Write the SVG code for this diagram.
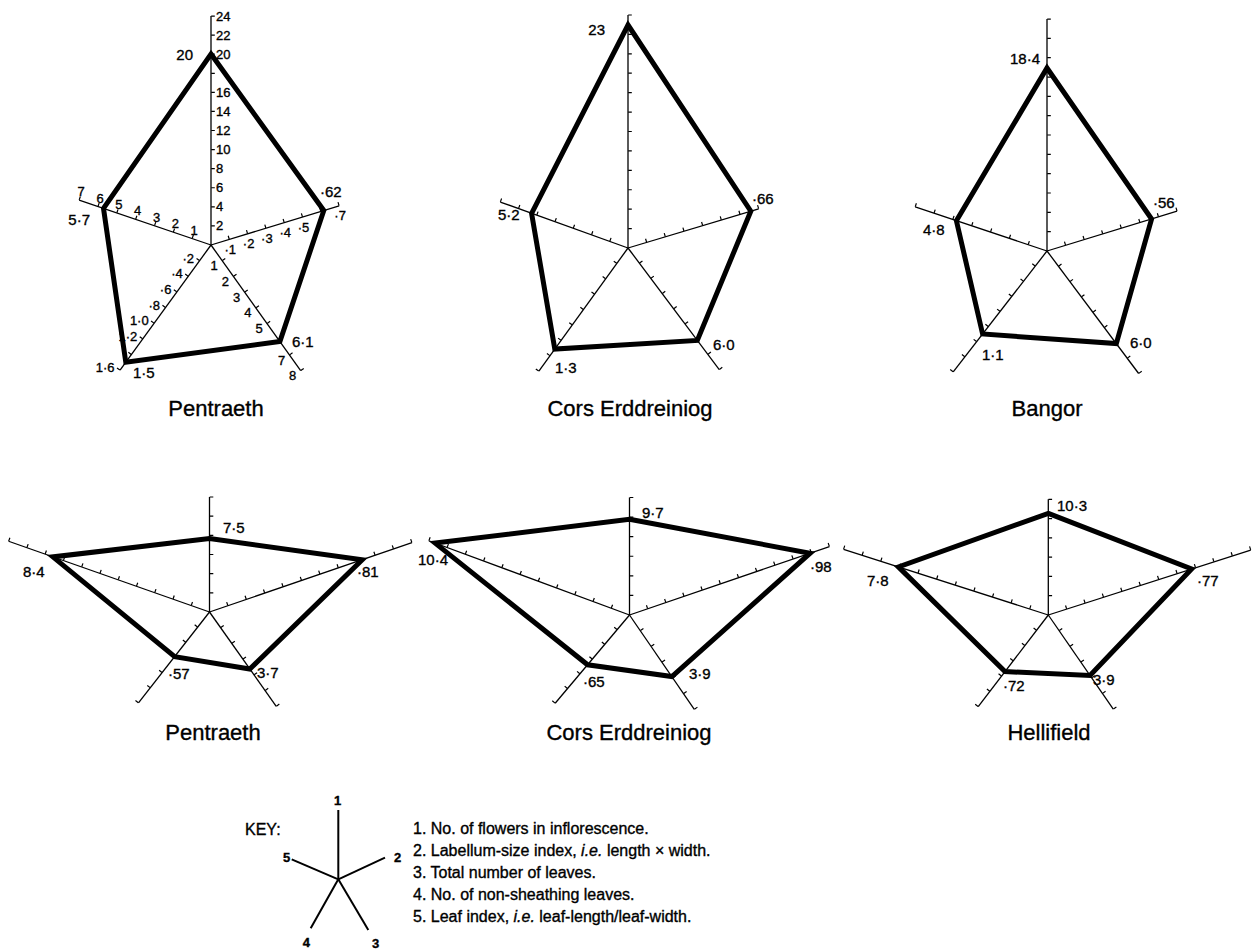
<svg xmlns="http://www.w3.org/2000/svg" width="1254" height="951" viewBox="0 0 1254 951">
<style>
.ax{stroke:#000;stroke-width:1.3;fill:none}
.tk{stroke:#000;stroke-width:3.6;fill:none;stroke-linecap:butt}
.pg{fill:none;stroke:#000;stroke-width:5;stroke-linejoin:miter}
text{font-family:"Liberation Sans",Arial,sans-serif;fill:#000;stroke:#000;stroke-width:0.35}
.v{font-size:15px}
.t{font-size:13px}
.ttl{font-size:22px;text-anchor:middle}
.kt{font-size:16px}
.kd{font-size:13px;font-weight:bold;text-anchor:middle}
.m{text-anchor:middle}
.e{text-anchor:end}
.key{stroke:#000;stroke-width:2;fill:none}
</style>
<rect width="1254" height="951" fill="#fff"/>

<g id="chart-pentraeth-1">
<g transform="translate(211,245)">
<g transform="rotate(-90)"><line class="ax" x2="229"/><line class="tk" x1="18.48" x2="229.6" y1="2" y2="2" stroke-dasharray="1.2 17.88"/></g>
<g transform="rotate(-17)"><line class="ax" x2="134"/><line class="tk" x1="18.54" x2="134.6" y1="-2" y2="-2" stroke-dasharray="1.2 17.94"/></g>
<g transform="rotate(54.5)"><line class="ax" x2="154.4"/><line class="tk" x1="18.7" x2="155" y1="-2" y2="-2" stroke-dasharray="1.2 18.1"/></g>
<g transform="rotate(126)"><line class="ax" x2="154.7"/><line class="tk" x1="18.74" x2="155.3" y1="2" y2="2" stroke-dasharray="1.2 18.14"/></g>
<g transform="rotate(198.8)"><line class="ax" x2="139.3"/><line class="tk" x1="19.3" x2="139.9" y1="2" y2="2" stroke-dasharray="1.2 18.7"/></g>
</g>
<polygon class="pg" points="211,54 323.8,210.5 279.9,341.6 125.8,362.3 103.5,208.4"/>
<g class="t">
<text x="216" y="230.4">2</text><text x="216" y="211.3">4</text><text x="216" y="192.3">6</text><text x="216" y="173.2">8</text><text x="216" y="154.1">10</text><text x="216" y="135">12</text><text x="216" y="116">14</text><text x="216" y="96.9">16</text><text x="216" y="58.7">20</text><text x="216" y="39.6">22</text><text x="216" y="20.5">24</text>
<text class="m" x="230.3" y="253.9">·1</text><text class="m" x="248.6" y="248.3">·2</text><text class="m" x="266.9" y="242.7">·3</text><text class="m" x="285.2" y="237.1">·4</text><text class="m" x="303.5" y="231.5">·5</text><text class="m" x="340.1" y="220.3">·7</text>
<text class="m" x="214.2" y="270.3">1</text><text class="m" x="225.4" y="286">2</text><text class="m" x="236.6" y="301.7">3</text><text class="m" x="247.8" y="317.4">4</text><text class="m" x="259.1" y="333.2">5</text><text class="m" x="281.5" y="364.6">7</text><text class="m" x="292.7" y="380.3">8</text>
<text class="e" x="194.1" y="262.6">·2</text><text class="e" x="182.8" y="278.3">·4</text><text class="e" x="171.4" y="293.9">·6</text><text class="e" x="160" y="309.6">·8</text><text class="e" x="148.7" y="325.3">1·0</text><text class="e" x="137.3" y="340.9">1·2</text><text class="e" x="114.5" y="372.2">1·6</text>
<text class="m" x="194.2" y="234.6">1</text><text class="m" x="175.3" y="228.2">2</text><text class="m" x="156.5" y="221.8">3</text><text class="m" x="137.6" y="215.4">4</text><text class="m" x="118.8" y="209">5</text><text class="m" x="100" y="202.5">6</text><text class="m" x="81.1" y="196.1">7</text>
</g>
<g class="v">
<text class="e" x="193" y="60">20</text><text x="320" y="197">·62</text><text class="e" x="90" y="225">5·7</text><text x="292" y="347">6·1</text><text x="133" y="378">1·5</text>
</g>
<text class="ttl" x="216" y="416">Pentraeth</text>
</g>

<g id="chart-cors-1">
<g transform="translate(628,248)">
<g transform="rotate(-90)"><line class="ax" x2="233"/><line class="tk" x1="18.82" x2="233.6" y1="2" y2="2" stroke-dasharray="1.2 18.22"/></g>
<g transform="rotate(-16.7)"><line class="ax" x2="136.4"/><line class="tk" x1="18.89" x2="137" y1="-2" y2="-2" stroke-dasharray="1.2 18.29"/></g>
<g transform="rotate(53.1)"><line class="ax" x2="152"/><line class="tk" x1="18.4" x2="152.6" y1="-2" y2="-2" stroke-dasharray="1.2 17.8"/></g>
<g transform="rotate(125.9)"><line class="ax" x2="152"/><line class="tk" x1="18.4" x2="152.6" y1="2" y2="2" stroke-dasharray="1.2 17.8"/></g>
<g transform="rotate(199.8)"><line class="ax" x2="135.7"/><line class="tk" x1="18.79" x2="136.3" y1="2" y2="2" stroke-dasharray="1.2 18.19"/></g>
</g>
<polygon class="pg" points="628,25 750.8,211.2 697.3,340.4 554.8,349.1 531.6,213.3"/>
<g class="v">
<text class="e" x="605" y="35">23</text><text x="752" y="204">·66</text><text x="498" y="220">5·2</text><text x="713" y="350">6·0</text><text x="555" y="373">1·3</text>
</g>
<text class="ttl" x="630" y="416">Cors Erddreiniog</text>
</g>

<g id="chart-bangor">
<g transform="translate(1047,251)">
<g transform="rotate(-90)"><line class="ax" x2="232"/><line class="tk" x1="18.73" x2="232.6" y1="2" y2="2" stroke-dasharray="1.2 18.13"/></g>
<g transform="rotate(-17)"><line class="ax" x2="136"/><line class="tk" x1="18.83" x2="136.6" y1="-2" y2="-2" stroke-dasharray="1.2 18.23"/></g>
<g transform="rotate(53.2)"><line class="ax" x2="153"/><line class="tk" x1="18.53" x2="153.6" y1="-2" y2="-2" stroke-dasharray="1.2 17.93"/></g>
<g transform="rotate(127.8)"><line class="ax" x2="153"/><line class="tk" x1="18.53" x2="153.6" y1="2" y2="2" stroke-dasharray="1.2 17.93"/></g>
<g transform="rotate(198.5)"><line class="ax" x2="139"/><line class="tk" x1="19.26" x2="139.6" y1="2" y2="2" stroke-dasharray="1.2 18.66"/></g>
</g>
<polygon class="pg" points="1047,68 1151.6,219 1116.3,343.6 982.6,334 956.4,220.7"/>
<g class="v">
<text class="e" x="1040" y="63.5">18·4</text><text x="1153" y="208">·56</text><text x="923" y="235">4·8</text><text x="1130" y="348">6·0</text><text x="982" y="360">1·1</text>
</g>
<text class="ttl" x="1047" y="416">Bangor</text>
</g>

<g id="chart-pentraeth-2">
<g transform="translate(209.5,612)">
<g transform="rotate(-90)"><line class="ax" x2="115"/><line class="tk" x1="18.57" x2="115.6" y1="2" y2="2" stroke-dasharray="1.2 17.97"/></g>
<g transform="rotate(-18.9)"><line class="ax" x2="214"/><line class="tk" x1="18.85" x2="214.6" y1="-2" y2="-2" stroke-dasharray="1.2 18.25"/></g>
<g transform="rotate(54.7)"><line class="ax" x2="115.5"/><line class="tk" x1="18.65" x2="116.1" y1="-2" y2="-2" stroke-dasharray="1.2 18.05"/></g>
<g transform="rotate(128)"><line class="ax" x2="115.4"/><line class="tk" x1="18.63" x2="116" y1="2" y2="2" stroke-dasharray="1.2 18.03"/></g>
<g transform="rotate(199.4)"><line class="ax" x2="213"/><line class="tk" x1="18.76" x2="213.6" y1="2" y2="2" stroke-dasharray="1.2 18.16"/></g>
</g>
<polygon class="pg" points="209.5,538.5 362.2,559.7 249.8,669 174.7,656.6 52.9,556.9"/>
<g class="v">
<text x="223" y="533">7·5</text><text x="357" y="577">·81</text><text x="23" y="577">8·4</text><text x="168" y="679">·57</text><text x="257" y="678">3·7</text>
</g>
<text class="ttl" x="213" y="740">Pentraeth</text>
</g>

<g id="chart-cors-2">
<g transform="translate(629.5,615)">
<g transform="rotate(-90)"><line class="ax" x2="117.5"/><line class="tk" x1="18.98" x2="118.1" y1="2" y2="2" stroke-dasharray="1.2 18.38"/></g>
<g transform="rotate(-18.9)"><line class="ax" x2="211.3"/><line class="tk" x1="18.61" x2="211.9" y1="-2" y2="-2" stroke-dasharray="1.2 18.01"/></g>
<g transform="rotate(55.5)"><line class="ax" x2="114.4"/><line class="tk" x1="18.47" x2="115" y1="-2" y2="-2" stroke-dasharray="1.2 17.87"/></g>
<g transform="rotate(130.1)"><line class="ax" x2="115.4"/><line class="tk" x1="18.63" x2="116" y1="2" y2="2" stroke-dasharray="1.2 18.03"/></g>
<g transform="rotate(200.3)"><line class="ax" x2="214"/><line class="tk" x1="18.85" x2="214.6" y1="2" y2="2" stroke-dasharray="1.2 18.25"/></g>
</g>
<polygon class="pg" points="629.5,519.3 810.1,553.2 671.9,676.6 587.6,664.8 435.1,543.1"/>
<g class="v">
<text x="642" y="518">9·7</text><text x="810" y="572">·98</text><text x="418" y="565">10·4</text><text x="583" y="687">·65</text><text x="689" y="679">3·9</text>
</g>
<text class="ttl" x="629" y="740">Cors Erddreiniog</text>
</g>

<g id="chart-hellifield">
<g transform="translate(1048.3,615)">
<g transform="rotate(-90)"><line class="ax" x2="115.7"/><line class="tk" x1="18.68" x2="116.3" y1="2" y2="2" stroke-dasharray="1.2 18.08"/></g>
<g transform="rotate(-17.8)"><line class="ax" x2="212.6"/><line class="tk" x1="18.73" x2="213.2" y1="-2" y2="-2" stroke-dasharray="1.2 18.13"/></g>
<g transform="rotate(55.4)"><line class="ax" x2="114.4"/><line class="tk" x1="18.47" x2="115" y1="-2" y2="-2" stroke-dasharray="1.2 17.87"/></g>
<g transform="rotate(127.4)"><line class="ax" x2="115.4"/><line class="tk" x1="18.63" x2="116" y1="2" y2="2" stroke-dasharray="1.2 18.03"/></g>
<g transform="rotate(197.8)"><line class="ax" x2="215"/><line class="tk" x1="18.95" x2="215.6" y1="2" y2="2" stroke-dasharray="1.2 18.35"/></g>
</g>
<polygon class="pg" points="1048.3,513.3 1191.6,569 1090,675.5 1005,671.6 898.4,566.9"/>
<g class="v">
<text x="1057" y="511">10·3</text><text x="1197" y="586">·77</text><text x="867" y="586">7·8</text><text x="1003" y="691">·72</text><text x="1093" y="685">3·9</text>
</g>
<text class="ttl" x="1049" y="740">Hellifield</text>
</g>

<g id="key">
<text class="kt" x="245" y="835">KEY:</text>
<g class="key">
<line x1="338.3" y1="879.3" x2="338.3" y2="810"/>
<line x1="338.3" y1="879.3" x2="385" y2="857.7"/>
<line x1="338.3" y1="879.3" x2="368.3" y2="930"/>
<line x1="338.3" y1="879.3" x2="310.7" y2="928.3"/>
<line x1="338.3" y1="879.3" x2="291.7" y2="859.3"/>
</g>
<text class="kd" x="337.5" y="805">1</text>
<text class="kd" x="397.5" y="862">2</text>
<text class="kd" x="375.5" y="948">3</text>
<text class="kd" x="306.3" y="947">4</text>
<text class="kd" x="286.7" y="862">5</text>
<g class="kt">
<text x="413" y="834">1. No. of flowers in inflorescence.</text>
<text x="413" y="856">2. Labellum-size index, <tspan font-style="italic">i.e.</tspan> length × width.</text>
<text x="413" y="878">3. Total number of leaves.</text>
<text x="413" y="900">4. No. of non-sheathing leaves.</text>
<text x="413" y="921.5">5. Leaf index, <tspan font-style="italic">i.e.</tspan> leaf-length/leaf-width.</text>
</g>
</g>
</svg>
